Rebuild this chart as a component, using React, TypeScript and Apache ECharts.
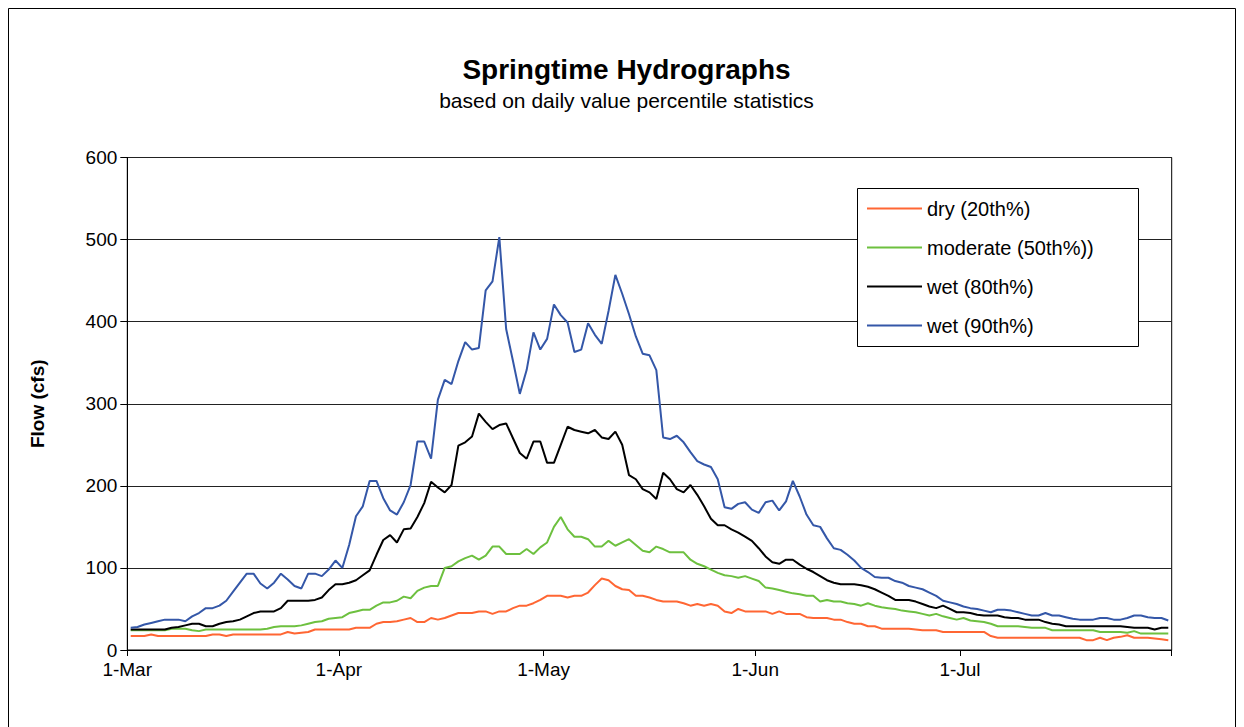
import React, { useEffect, useRef } from 'react';
import * as echarts from 'echarts';

const FONT = '"Liberation Sans", Arial, Helvetica, sans-serif';

const months = ['Mar', 'Apr', 'May', 'Jun', 'Jul'];
const monthLengths = [31, 30, 31, 30, 31];
const categories: string[] = [];
months.forEach((m, i) => {
  for (let d = 1; d <= monthLengths[i]; d++) categories.push(`${d}-${m}`);
});

const seriesNames = ['dry (20th%)', 'moderate (50th%))', 'wet (80th%)', 'wet (90th%)'];
const seriesColors = ['#FF6633', '#6DC03F', '#000000', '#3457A8'];

const dry = [
  17, 17, 17, 19, 17, 17, 17, 17, 17, 17,
  17, 17, 19, 19, 17, 19, 19, 19, 19, 19,
  19, 19, 19, 22, 20, 21, 22, 25, 25, 25,
  25, 25, 25, 27, 27, 27, 32, 34, 34, 35,
  37, 39, 34, 34, 39, 37, 39, 42, 45, 45,
  45, 47, 47, 44, 47, 47, 51, 54, 54, 57,
  61, 66, 66, 66, 64, 66, 66, 70, 79, 87,
  85, 78, 74, 73, 66, 66, 64, 61, 59, 59,
  59, 57, 54, 56, 54, 56, 54, 47, 45, 50,
  47, 47, 47, 47, 44, 47, 44, 44, 44, 40,
  39, 39, 39, 37, 37, 34, 32, 32, 29, 29,
  26, 26, 26, 26, 26, 25, 24, 24, 24, 22,
  22, 22, 22, 22, 22, 22, 17, 15, 15, 15,
  15, 15, 15, 15, 15, 15, 15, 15, 15, 15,
  12, 12, 15, 12, 15, 16, 18, 15, 15, 15,
  14, 13, 12,
];

const moderate = [
  24, 24, 24, 24, 24, 24, 26, 26, 26, 24,
  23, 25, 25, 25, 25, 25, 25, 25, 25, 25,
  26, 28, 29, 29, 29, 30, 32, 34, 35, 38,
  39, 40, 45, 47, 49, 49, 54, 58, 58, 60,
  65, 63, 72, 76, 78, 78, 100, 102, 108, 112,
  115, 110, 115, 126, 126, 117, 117, 117, 123, 117,
  125, 131, 150, 162, 147, 138, 138, 135, 126, 126,
  133, 127, 131, 135, 128, 121, 119, 126, 123, 119,
  119, 119, 110, 105, 102, 98, 94, 91, 90, 88,
  90, 87, 84, 76, 75, 73, 71, 69, 68, 66,
  66, 59, 61, 59, 59, 57, 56, 54, 57, 54,
  52, 51, 50, 48, 47, 46, 44, 42, 44, 41,
  39, 37, 39, 36, 35, 34, 32, 29, 29, 29,
  29, 28, 27, 27, 27, 24, 24, 24, 24, 24,
  24, 24, 22, 22, 22, 22, 21, 23, 20, 20,
  20, 20, 20,
];

const wet80 = [
  25, 25, 25, 25, 25, 25, 27, 28, 30, 32,
  32, 29, 29, 32, 34, 35, 37, 41, 45, 47,
  47, 47, 51, 60, 60, 60, 60, 61, 64, 73,
  80, 80, 82, 85, 91, 97, 116, 134, 140, 131,
  147, 148, 162, 179, 205, 198, 192, 201, 249, 253,
  260, 288, 278, 269, 274, 276, 258, 240, 233, 254,
  254, 228, 228, 250, 272, 268, 266, 264, 268, 259,
  257, 266, 250, 213, 208, 196, 192, 184, 216, 208,
  196, 192, 201, 189, 175, 160, 152, 152, 147, 143,
  138, 133, 124, 114, 107, 105, 110, 110, 104, 99,
  95, 90, 85, 82, 80, 80, 80, 79, 77, 74,
  70, 66, 61, 61, 61, 59, 56, 53, 51, 54,
  50, 46, 46, 45, 43, 42, 42, 42, 40, 39,
  39, 37, 37, 37, 34, 32, 31, 29, 29, 29,
  29, 29, 29, 29, 29, 29, 28, 27, 27, 27,
  25, 27, 27,
];

const wet90 = [
  27, 28, 31, 33, 35, 37, 37, 37, 35, 41,
  45, 51, 51, 54, 60, 71, 82, 93, 93, 81,
  75, 82, 93, 86, 78, 75, 93, 93, 90, 98,
  109, 100, 128, 163, 175, 206, 206, 185, 170, 165,
  180, 201, 254, 254, 233, 305, 329, 324, 352, 375,
  366, 368, 438, 449, 503, 391, 352, 312, 341, 387,
  366, 379, 421, 408, 399, 363, 366, 398, 384, 373,
  413, 457, 434, 409, 382, 361, 359, 341, 259, 257,
  261, 253, 241, 230, 226, 223, 208, 174, 172, 178,
  180, 171, 167, 180, 182, 170, 181, 206, 187, 165,
  152, 150, 136, 124, 122, 116, 109, 100, 95, 89,
  88, 88, 84, 82, 78, 76, 74, 70, 66, 60,
  58, 56, 53, 51, 50, 48, 46, 49, 49, 48,
  46, 44, 42, 42, 45, 42, 42, 40, 38, 37,
  37, 37, 39, 39, 37, 37, 39, 42, 42, 40,
  39, 39, 36,
];

const seriesData = [dry, moderate, wet80, wet90];

const yMin = 0;
const yMax = 600;
const yStep = 100;

const isMonthStart = (_index: number, value: string) => String(value).split('-')[0] === '1';

export default function App() {
  const ref = useRef<HTMLDivElement>(null);

  useEffect(() => {
    document.documentElement.style.overflow = 'hidden';
    if (!ref.current) return;
    const chart = echarts.init(ref.current, undefined, { renderer: 'svg' });
    chart.setOption({
      animation: false,
      backgroundColor: '#ffffff',
      textStyle: { fontFamily: FONT },
      title: [
        {
          text: 'Springtime Hydrographs',
          left: 618.5,
          top: 47,
          textAlign: 'center',
          padding: 0,
          textStyle: { fontFamily: FONT, fontSize: 28, fontWeight: 'bold', color: '#000' },
        },
        {
          text: 'based on daily value percentile statistics',
          left: 618.5,
          top: 82,
          textAlign: 'center',
          padding: 0,
          textStyle: { fontFamily: FONT, fontSize: 21, fontWeight: 'normal', color: '#000' },
        },
      ],
      grid: {
        left: 119.3,
        top: 149.5,
        width: 1044.4,
        height: 492.5,
        show: true,
        borderColor: '#000',
        borderWidth: 1,
        backgroundColor: 'transparent',
      },
      legend: {
        orient: 'vertical',
        left: 859,
        top: 190,
        itemWidth: 55,
        itemHeight: 2,
        itemGap: 18,
        icon: 'rect',
        padding: 0,
        data: seriesNames,
        textStyle: { fontFamily: FONT, fontSize: 20, color: '#000', lineHeight: 21 },
      },
      xAxis: {
        type: 'category',
        data: categories,
        boundaryGap: true,
        axisLine: { show: true, lineStyle: { color: '#000', width: 1 } },
        axisTick: { show: true, interval: isMonthStart, length: 6, lineStyle: { color: '#000' } },
        axisLabel: {
          interval: isMonthStart,
          fontFamily: FONT,
          fontSize: 19,
          color: '#000',
          margin: 10,
          padding: [0, 7, 0, 0],
        },
        splitLine: { show: false },
      },
      yAxis: {
        type: 'value',
        min: yMin,
        max: yMax,
        interval: yStep,
        name: 'Flow (cfs)',
        nameLocation: 'middle',
        nameRotate: 90,
        nameGap: 80,
        nameTextStyle: { fontFamily: FONT, fontSize: 19, fontWeight: 'bold', color: '#000' },
        axisLine: { show: true, lineStyle: { color: '#000', width: 1 } },
        axisTick: { show: true, length: 7, lineStyle: { color: '#000' } },
        axisLabel: { fontFamily: FONT, fontSize: 19, color: '#000', margin: 10 },
        splitLine: { show: true, lineStyle: { color: '#222', width: 1 } },
      },
      series: seriesNames.map((name, i) => ({
        name,
        type: 'line',
        data: seriesData[i],
        symbol: 'none',
        showSymbol: false,
        color: seriesColors[i],
        lineStyle: { color: seriesColors[i], width: 2 },
        z: 2 + i * 0.01,
      })),
      graphic: {
        elements: [
          {
            type: 'rect',
            z: 0,
            silent: true,
            shape: { x: 0.5, y: 0.5, width: 1227, height: 740 },
            style: { fill: 'none', stroke: '#000', lineWidth: 1 },
          },
          {
            type: 'rect',
            z: 3,
            silent: true,
            shape: { x: 849.5, y: 180.5, width: 281, height: 158 },
            style: { fill: '#fff', stroke: '#000', lineWidth: 1 },
          },
        ],
      },
    });
    return () => {
      chart.dispose();
    };
  }, []);

  return <div ref={ref} style={{ width: 1228, height: 719 }} />;
}
